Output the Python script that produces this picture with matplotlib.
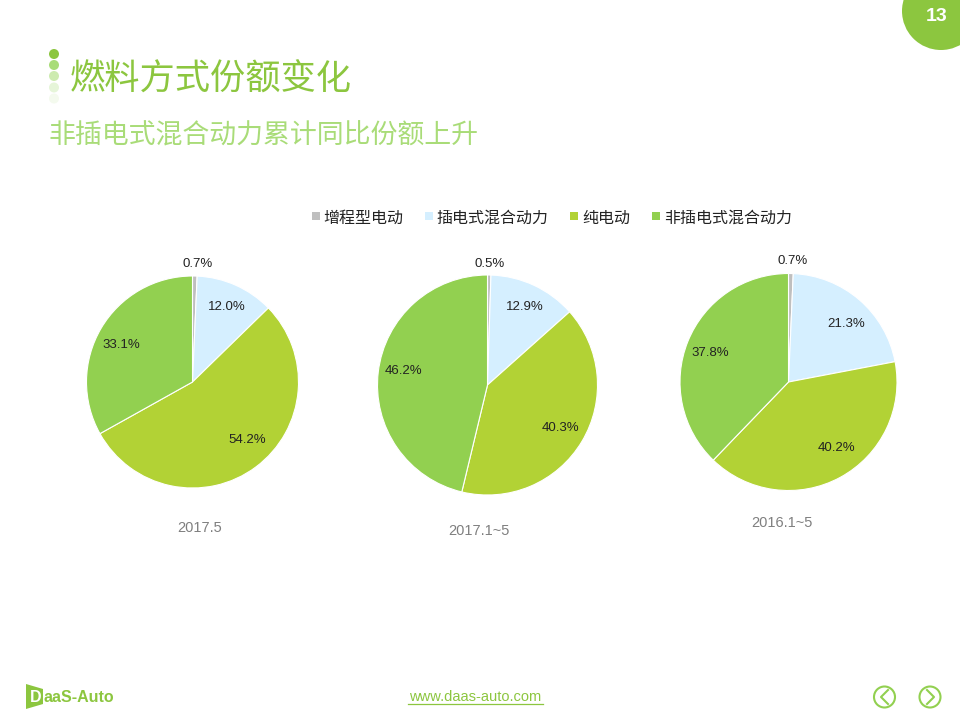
#!/usr/bin/env python3
# 燃料方式份额变化 - three pies on a slide
import matplotlib
matplotlib.use('Agg')
import matplotlib.pyplot as plt
from matplotlib.patches import Circle, Polygon, Rectangle

plt.rcParams['font.family'] = ['Liberation Sans', 'Noto Sans CJK SC', 'DejaVu Sans']

W, H = 960, 720

# data
categories = ['增程型电动', '插电式混合动力', '纯电动', '非插电式混合动力']
periods = ['2017.5', '2017.1~5', '2016.1~5']
share_2017_5 = [0.7, 12.0, 54.2, 33.1]
share_2017_1_5 = [0.5, 12.9, 40.3, 46.2]
share_2016_1_5 = [0.7, 21.3, 40.2, 37.8]

colors = ['#BFBFBF', '#D5EFFF', '#B2D235', '#92D050']
GREEN = '#8CC63F'
LIGHT_GREEN = '#A9DC78'
page_no = '13'

# layout in slide pixels (y goes down)
pies = [
    (share_2017_5, 192.5, 382, 106, (200, 527),
     [(3, -39), (2, -2), (7, -6), (-3, 3)]),
    (share_2017_1_5, 487.5, 385, 110, (479, 530),
     [(1, -39), (2, -3), (2, 1), (-2, -4)]),
    (share_2016_1_5, 788.5, 382, 108.5, (782, 522),
     [(2, -40), (4, 4), (9, -6), (-3, 1)]),
]

fig = plt.figure(figsize=(W / 100, H / 100), dpi=100)
bg = fig.add_axes([0, 0, 1, 1])
bg.set_xlim(0, W)
bg.set_ylim(H, 0)
bg.axis('off')

# page badge
bg.add_patch(Circle((941, 11), 39, color=GREEN, lw=0))
bg.text(937, 16.5, page_no, color='white', fontsize=14, fontweight='bold', ha='center', va='center')

# title dots
for y, c in zip([54, 65, 76, 87.5, 98.5], ['#8CC63F', '#A9DC78', '#CDEBB0', '#E6F5D9', '#F4FAEE']):
    bg.add_patch(Circle((54, y), 5, color=c, lw=0))
bg.text(70, 80, '燃料方式份额变化', color=GREEN, fontsize=25.4, ha='left', va='center')
bg.text(48, 136, '非插电式混合动力累计同比份额上升', color=LIGHT_GREEN, fontsize=19.4, ha='left', va='center')

# legend
legend_x = [(312, 323), (425, 436), (570, 582), (652, 664)]
for (sx, tx), name, c in zip(legend_x, categories, colors):
    bg.add_patch(Rectangle((sx, 212), 8, 8, color=c, lw=0))
    bg.text(tx, 218, name, color='#222222', fontsize=11.5, ha='left', va='center')

# pies
for (values, cx, cy, r, cap, offsets), period in zip(pies, periods):
    ax = fig.add_axes([(cx - r) / W, 1 - (cy + r) / H, 2 * r / W, 2 * r / H])
    wedges, _, autotexts = ax.pie(values, colors=colors, startangle=90, counterclock=False,
                                  autopct='%.1f', pctdistance=0.75,
                                  wedgeprops={'edgecolor': 'white', 'linewidth': 0.8})
    ax.set_xlim(-1, 1)
    ax.set_ylim(-1, 1)
    for t, v, (dx, dy) in zip(autotexts, values, offsets):
        x, y = t.get_position()
        t.set_position((x + dx / r, y - dy / r))
        t.set_text(f'{v:.1f}%')
        t.set_fontsize(9.5)
        t.set_color('#222222')
        t.set_clip_on(False)
    bg.text(cap[0], cap[1] + 1, period, color='#7F7F7F', fontsize=10.5, ha='center', va='center')

# footer
bg.text(475.5, 697, 'www.daas-auto.com', color=GREEN, fontsize=10.5, ha='center', va='center')
bg.plot([408, 543], [703.5, 703.5], color=GREEN, lw=0.9)

bg.add_patch(Polygon([(26, 684), (43, 689), (43, 704), (26, 709)], color=GREEN, lw=0))
bg.text(30, 698, 'D', color='white', fontsize=11.5, fontweight='bold', ha='left', va='center')
bg.text(43, 698, 'aaS-Auto', color=GREEN, fontsize=11.5, fontweight='bold', ha='left', va='center')

for cx, pts in [(884.5, [(888, 690), (881, 697), (888, 704)]), (930, [(927, 690), (934, 697), (927, 704)])]:
    bg.add_patch(Circle((cx, 697), 10.5, fill=False, ec='#92D050', lw=1.5))
    bg.plot([p[0] for p in pts], [p[1] for p in pts], color='#92D050', lw=1.5)

fig.savefig('out.png', dpi=100)
